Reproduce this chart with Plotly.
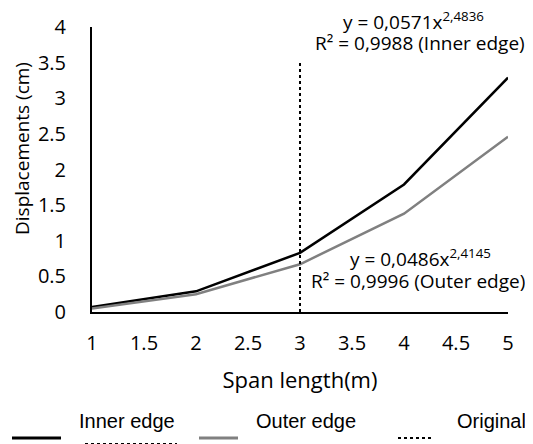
import plotly.graph_objects as go

span = [1, 2, 3, 4, 5]
inner_edge = [0.07, 0.29, 0.83, 1.79, 3.29]
outer_edge = [0.05, 0.25, 0.67, 1.38, 2.46]
original_x = [3, 3]
original_y = [0, 3.5]
names = ["Inner edge", "Outer edge", "Original"]
xticks = [1, 1.5, 2, 2.5, 3, 3.5, 4, 4.5, 5]
yticks = [0, 0.5, 1, 1.5, 2, 2.5, 3, 3.5, 4]

# page is offset by the 8px body margin
OFF = 8
W, H = 533 - OFF, 444 - OFF
L, T = 92, 27            # plot-area position in page pixels
PW, PH = 416, 285        # plot-area size
ML, MT = L - OFF, T - OFF
MR = W - ML - PW
MB = H - MT - PH

def px(x):
    return (x - L) / PW

def py(y):
    return (T + PH - y) / PH

fig = go.Figure()
fig.add_trace(go.Scatter(x=span, y=inner_edge, mode="lines", name=names[0],
                         line=dict(color="black", width=2.5)))
fig.add_trace(go.Scatter(x=span, y=outer_edge, mode="lines", name=names[1],
                         line=dict(color="#808080", width=2.5)))
fig.add_trace(go.Scatter(x=original_x, y=original_y, mode="lines", name=names[2],
                         line=dict(color="black", width=2, dash="dot")))

font_main = "'Open Sans', sans-serif"

def text(x, y, s, size, family=font_main, angle=0):
    fig.add_annotation(xref="paper", yref="paper", x=px(x), y=py(y), text=s,
                       showarrow=False, xanchor="center", yanchor="middle",
                       textangle=angle, borderpad=0,
                       font=dict(family=family, size=size, color="black"))

# manual legend
leg = [
    (12, 61, "black", "solid", 3, 127, names[0]),
    (199, 238, "#808080", "solid", 3, 306, names[1]),
    (398, 432, "black", "dot", 2, 491, names[2]),
]
for x0, x1, col, dash, w, tx, label in leg:
    fig.add_shape(type="line", xref="paper", yref="paper",
                  x0=px(x0), x1=px(x1), y0=py(438), y1=py(438),
                  line=dict(color=col, width=w, dash=dash))
    text(tx, 421, label, 20, family="'Liberation Sans', Arial")
fig.add_shape(type="line", xref="paper", yref="paper",
              x0=px(85), x1=px(177), y0=py(444), y1=py(444),
              line=dict(color="black", width=2, dash="dot"))

# trendline equations
text(413, 21, "y = 0,0571x<sup>2,4836</sup>", 19)
text(420, 43, "R² = 0,9988 (Inner edge)", 19)
text(420, 258, "y = 0,0486x<sup>2,4145</sup>", 19)
text(418, 281, "R² = 0,9996 (Outer edge)", 19)

# y-axis title
text(22, 149, "Displacements (cm)", 19, angle=-90)

fig.update_layout(
    width=W, height=H,
    margin=dict(l=ML, r=MR, t=MT, b=MB, autoexpand=False),
    paper_bgcolor="white", plot_bgcolor="white",
    showlegend=False,
    font=dict(family=font_main, size=20, color="black"),
)
fig.update_xaxes(range=[1, 5], tickvals=xticks, ticktext=[f"{v:g}" for v in xticks],
                 showgrid=False, zeroline=False, showline=True, linecolor="black", linewidth=2,
                 ticks="", ticklabelstandoff=12,
                 title=dict(text="Span length(m)", font=dict(size=22), standoff=18))
fig.update_yaxes(range=[0, 4], tickvals=yticks, ticktext=[f"{v:g}" for v in yticks],
                 showgrid=False, zeroline=False, showline=True, linecolor="black", linewidth=2,
                 ticks="", ticklabelstandoff=20)

fig.write_html("out.html")
